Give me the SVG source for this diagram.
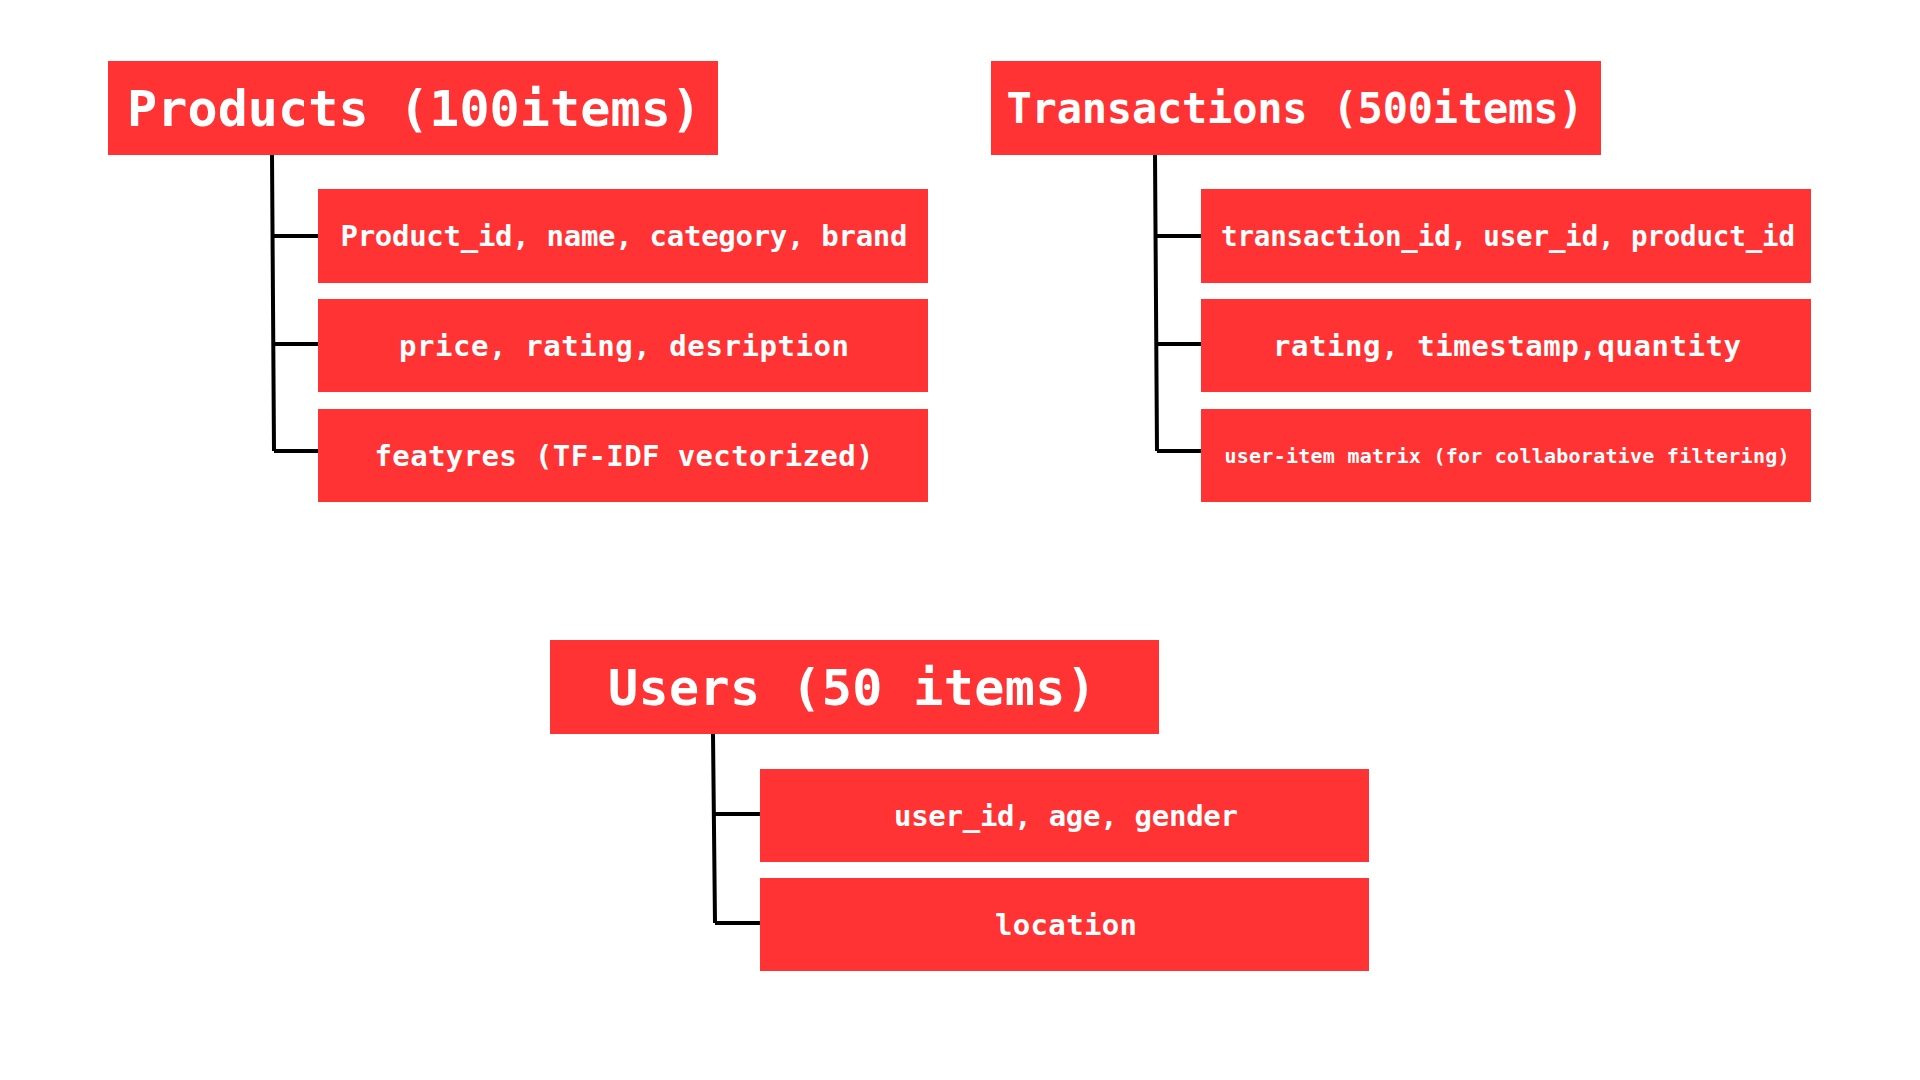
<svg xmlns="http://www.w3.org/2000/svg" width="1920" height="1080" viewBox="0 0 1920 1080">
<style>
.box{fill:#FF3333}
.t{fill:#FFFFFF;font-family:"DejaVu Sans Mono","Liberation Mono",monospace;font-weight:bold;text-anchor:middle}
.h{font-size:50px}
.c{font-size:29px}
.conn{stroke:#000000;stroke-width:4;fill:none}
</style>
<rect width="1920" height="1080" fill="#FFFFFF"/>
<g id="connectors">
<path class="conn" d="M272,155 L274,451 M272,236 L318,236 M273,344 L318,344 M274,451 L318,451"/>
<path class="conn" d="M1155,155 L1157,451 M1155,236 L1201,236 M1156,344 L1201,344 M1157,451 L1201,451"/>
<path class="conn" d="M713,734 L715,923 M713,814 L760,814 M715,923 L760,923"/>
</g>
<g id="products">
<rect class="box" x="108" y="61" width="610" height="94"/>
<text class="t h" x="414" y="126" textLength="574" lengthAdjust="spacing">Products (100items)</text>
</g>
<g id="products-1">
<rect class="box" x="318" y="189" width="610" height="94"/>
<text class="t c" x="624" y="246" textLength="567" lengthAdjust="spacing">Product_id, name, category, brand</text>
</g>
<g id="products-2">
<rect class="box" x="318" y="299" width="610" height="93"/>
<text class="t c" x="624" y="356" textLength="450" lengthAdjust="spacing">price, rating, desription</text>
</g>
<g id="products-3">
<rect class="box" x="318" y="409" width="610" height="93"/>
<text class="t c" x="624" y="466" textLength="499" lengthAdjust="spacing">featyres (TF-IDF vectorized)</text>
</g>
<g id="transactions">
<rect class="box" x="991" y="61" width="610" height="94"/>
<text class="t" style="font-size:42px" x="1295" y="123" textLength="577" lengthAdjust="spacing">Transactions (500items)</text>
</g>
<g id="transactions-1">
<rect class="box" x="1201" y="189" width="610" height="94"/>
<text class="t" style="font-size:27.5px" x="1508" y="246" textLength="574" lengthAdjust="spacing">transaction_id, user_id, product_id</text>
</g>
<g id="transactions-2">
<rect class="box" x="1201" y="299" width="610" height="93"/>
<text class="t c" x="1507" y="356" textLength="468" lengthAdjust="spacing">rating, timestamp,quantity</text>
</g>
<g id="transactions-3">
<rect class="box" x="1201" y="409" width="610" height="93"/>
<text class="t" style="font-size:20px" x="1507" y="463" textLength="565" lengthAdjust="spacing">user-item matrix (for collaborative filtering)</text>
</g>
<g id="users">
<rect class="box" x="550" y="640" width="609" height="94"/>
<text class="t h" x="852" y="705" textLength="488" lengthAdjust="spacing">Users (50 items)</text>
</g>
<g id="users-1">
<rect class="box" x="760" y="769" width="609" height="93"/>
<text class="t c" x="1066" y="826" textLength="344" lengthAdjust="spacing">user_id, age, gender</text>
</g>
<g id="users-2">
<rect class="box" x="760" y="878" width="609" height="93"/>
<text class="t c" x="1066" y="935" textLength="142" lengthAdjust="spacing">location</text>
</g>
</svg>
